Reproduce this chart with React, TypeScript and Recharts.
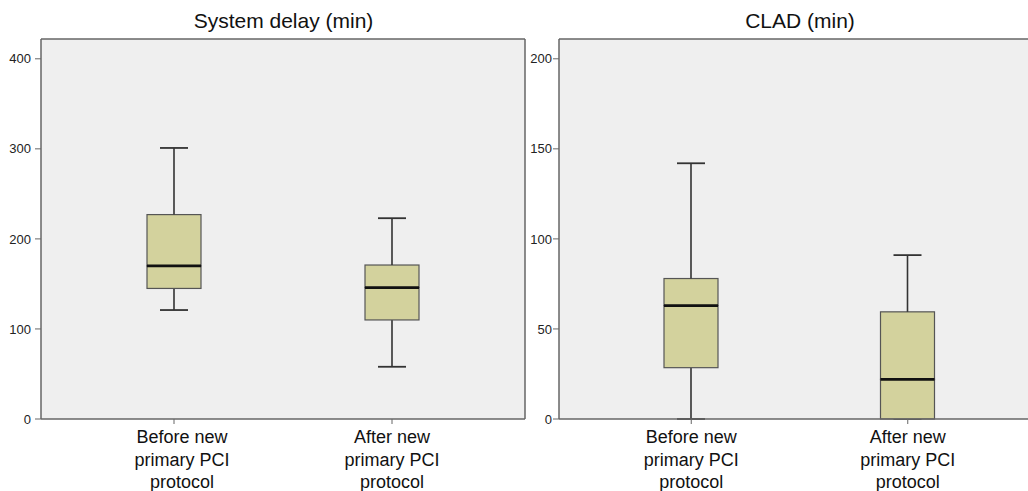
import { ComposedChart, Bar, XAxis, YAxis, CartesianGrid } from "recharts";

const categories = ["Before new\nprimary PCI\nprotocol", "After new\nprimary PCI\nprotocol"];

// System delay (min)
const delayMin = [121, 58];
const delayQ1 = [145, 110];
const delayMedian = [170, 146];
const delayQ3 = [227, 171];
const delayMax = [301, 223];
const delayTicks = [0, 100, 200, 300, 400];

// CLAD (min)
const cladMin = [0, 0];
const cladQ1 = [28.5, 0];
const cladMedian = [63, 22];
const cladQ3 = [78, 59.5];
const cladMax = [142, 91];
const cladTicks = [0, 50, 100, 150, 200];

const FONT = "Arial, 'Liberation Sans', Helvetica, sans-serif";
const BOX_FILL = "#d3d29d";
const BOX_STROKE = "#555";
const WHISKER = "#333";
const AXIS = "#666";
const CAP = 28;

const buildRows = (min: number[], q1: number[], med: number[], q3: number[], max: number[]) =>
  categories.map((name, i) => ({
    name,
    base: min[i],
    lowWhisker: q1[i] - min[i],
    boxLow: med[i] - q1[i],
    boxHigh: q3[i] - med[i],
    highWhisker: max[i] - q3[i],
  }));

const LowWhisker = (props: any) => {
  const { x, y, width, height } = props;
  const cx = x + width / 2;
  const bottom = y + height;
  return (
    <g>
      <line x1={cx} x2={cx} y1={y} y2={bottom} stroke={WHISKER} strokeWidth={1.6} />
      <line x1={cx - CAP / 2} x2={cx + CAP / 2} y1={bottom} y2={bottom} stroke={WHISKER} strokeWidth={1.8} />
    </g>
  );
};

const HighWhisker = (props: any) => {
  const { x, y, width, height } = props;
  const cx = x + width / 2;
  return (
    <g>
      <line x1={cx} x2={cx} y1={y} y2={y + height} stroke={WHISKER} strokeWidth={1.6} />
      <line x1={cx - CAP / 2} x2={cx + CAP / 2} y1={y} y2={y} stroke={WHISKER} strokeWidth={1.8} />
    </g>
  );
};

const BoxLow = (props: any) => {
  const { x, y, width, height } = props;
  return <rect x={x} y={y} width={width} height={Math.max(height, 0)} fill={BOX_FILL} stroke={BOX_STROKE} strokeWidth={1.2} />;
};

const BoxHigh = (props: any) => {
  const { x, y, width, height } = props;
  const bottom = y + height;
  return (
    <g>
      <rect x={x} y={y} width={width} height={Math.max(height, 0)} fill={BOX_FILL} stroke={BOX_STROKE} strokeWidth={1.2} />
      <line x1={x} x2={x + width} y1={bottom} y2={bottom} stroke="#111" strokeWidth={2.8} />
    </g>
  );
};

const CategoryTick = (props: any) => {
  const { x, y, payload, index, shifts } = props;
  const lines = String(payload.value).split("\n");
  const dx = (shifts && shifts[index]) || 0;
  return (
    <g transform={`translate(${x + dx},${y})`}>
      <text textAnchor="middle" fontSize={18} fontFamily={FONT} fill="#111">
        {lines.map((line, i) => (
          <tspan key={i} x={0} y={17 + i * 22.5}>
            {line}
          </tspan>
        ))}
      </text>
    </g>
  );
};

interface PanelProps {
  title: string;
  rows: any[];
  yMax: number;
  ticks: number[];
  width: number;
  yAxisWidth: number;
  tickGap: number;
  left: number;
  labelShifts?: number[];
}

const Panel = ({ title, rows, yMax, ticks, width, yAxisWidth, tickGap, left, labelShifts }: PanelProps) => {
  const margin = { top: 38, right: 5, bottom: 0, left: 0 };
  const titleX = yAxisWidth + (width - yAxisWidth - margin.right) / 2;
  return (
    <div style={{ position: "absolute", left, top: 0 }}>
      <ComposedChart width={width} height={491} data={rows} margin={margin} barSize={54}>
        <CartesianGrid horizontal={false} vertical={false} fill="#efefef" />
        <XAxis
          dataKey="name"
          type="category"
          interval={0}
          padding={{ left: 24, right: 24 }}
          height={72}
          axisLine={{ stroke: AXIS, strokeWidth: 1.5 }}
          tickLine={{ stroke: AXIS }}
          tickSize={5}
          tick={<CategoryTick shifts={labelShifts} />}
        />
        <XAxis
          xAxisId="top"
          orientation="top"
          dataKey="name"
          type="category"
          height={1}
          tick={false}
          tickLine={false}
          axisLine={{ stroke: AXIS, strokeWidth: 1.5 }}
        />
        <YAxis
          type="number"
          domain={[0, yMax]}
          ticks={ticks}
          width={yAxisWidth}
          tickSize={6}
          tickMargin={tickGap}
          axisLine={{ stroke: AXIS, strokeWidth: 1.5 }}
          tickLine={{ stroke: AXIS }}
          tick={{ fontSize: 13, fill: "#222", fontFamily: FONT }}
        />
        <YAxis
          yAxisId="right"
          orientation="right"
          type="number"
          domain={[0, yMax]}
          width={1}
          tick={false}
          tickLine={false}
          axisLine={{ stroke: AXIS, strokeWidth: 1.5 }}
        />
        <Bar dataKey="base" stackId="box" fill="none" isAnimationActive={false} />
        <Bar dataKey="lowWhisker" stackId="box" shape={<LowWhisker />} isAnimationActive={false} />
        <Bar dataKey="boxLow" stackId="box" shape={<BoxLow />} isAnimationActive={false} />
        <Bar dataKey="boxHigh" stackId="box" shape={<BoxHigh />} isAnimationActive={false} />
        <Bar dataKey="highWhisker" stackId="box" shape={<HighWhisker />} isAnimationActive={false} />
        <text x={titleX} y={28} textAnchor="middle" fontSize={21} fontFamily={FONT} fill="#111">
          {title}
        </text>
      </ComposedChart>
    </div>
  );
};

export default function App() {
  const delayRows = buildRows(delayMin, delayQ1, delayMedian, delayQ3, delayMax);
  const cladRows = buildRows(cladMin, cladQ1, cladMedian, cladQ3, cladMax);
  return (
    <div style={{ position: "absolute", left: 0, top: 0, width: 1028, height: 491, overflow: "hidden", background: "#fff" }}>
      <Panel title="System delay (min)" rows={delayRows} yMax={422} ticks={delayTicks} width={531} yAxisWidth={41} tickGap={4} left={0} labelShifts={[8, 0]} />
      <Panel title="CLAD (min)" rows={cladRows} yMax={211} ticks={cladTicks} width={521} yAxisWidth={34} tickGap={1} left={525} />
    </div>
  );
}
